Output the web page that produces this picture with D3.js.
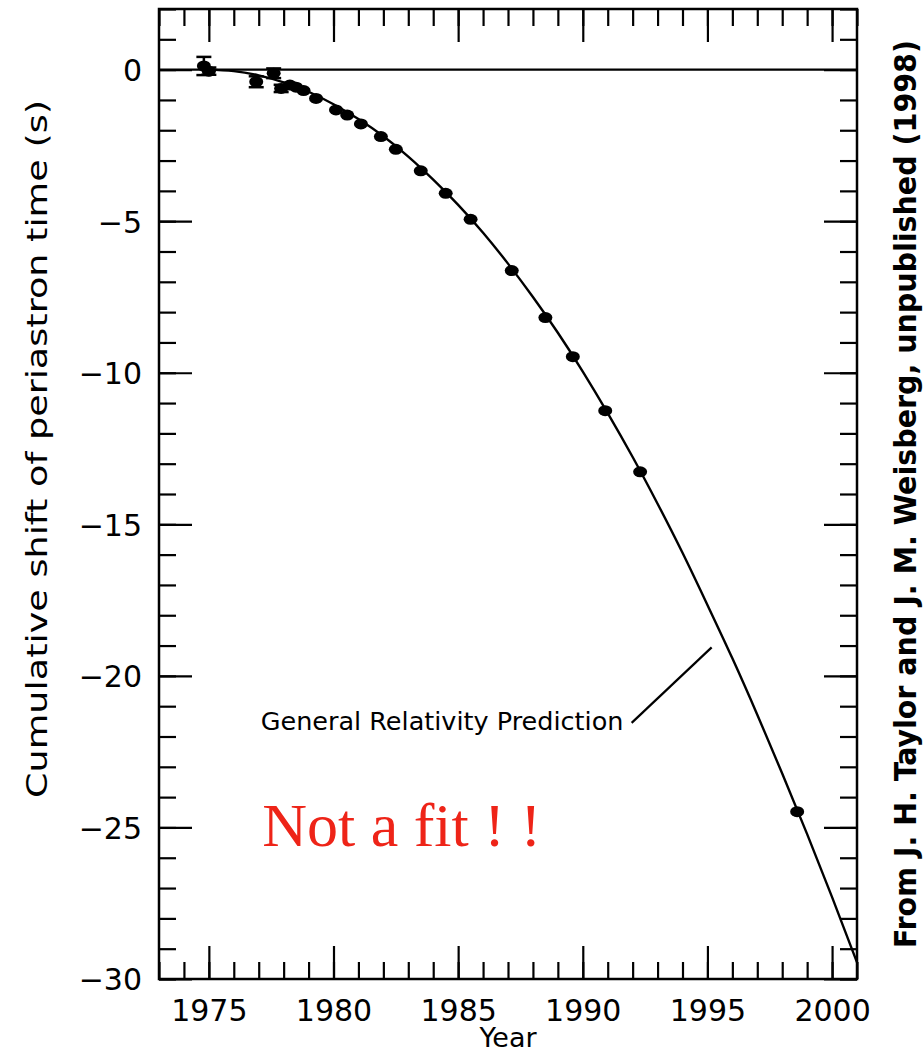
<!DOCTYPE html>
<html>
<head>
<meta charset="utf-8">
<script src="https://cdn.jsdelivr.net/npm/d3@7"></script>
<style>
  body { margin: 0; background: #fff; }
</style>
</head>
<body>
<div id="chart"></div>
<script>
// measured points (year, cumulative shift in s, error bar half-height)
const obsYears = [1974.8, 1975.0, 1976.9, 1977.6, 1977.9, 1978.25, 1978.5, 1978.8, 1979.3, 1980.1, 1980.55,
    1981.1, 1981.9, 1982.5, 1983.5, 1984.5, 1985.5, 1987.15, 1988.5, 1989.6, 1990.9, 1992.3, 1998.6];
const obsShift = [0.12, -0.05, -0.40, -0.12, -0.62, -0.51, -0.58, -0.69, -0.95, -1.33, -1.50,
    -1.79, -2.21, -2.63, -3.34, -4.08, -4.94, -6.63, -8.18, -9.47, -11.25, -13.27, -24.48];
const obsErr = [0.30, 0.12, 0.18, 0.16, 0.12, 0.08, 0.08, 0.08, 0.06, 0.06, 0.06,
    0.05, 0.05, 0.05, 0.05, 0.05, 0.05, 0.05, 0.05, 0.05, 0.05, 0.05, 0.05];

// general relativity curve
const grYears = [1974.9, 1976, 1977, 1978, 1979, 1980, 1981, 1982, 1983, 1984, 1985, 1986, 1987,
    1988, 1989, 1990, 1991, 1992, 1993, 1994, 1995, 1996, 1997, 1998, 1999, 2000, 2001];
const grShift = [0, -0.05, -0.19, -0.42, -0.73, -1.14, -1.63, -2.20, -2.87, -3.63, -4.46, -5.38, -6.40,
    -7.50, -8.68, -9.96, -11.33, -12.78, -14.32, -15.94, -17.66, -19.42, -21.28, -23.22, -25.22, -27.30, -29.45];

const xMajorTicks = [1975, 1980, 1985, 1990, 1995, 2000];
const yMajorTicks = [0, -5, -10, -15, -20, -25, -30];

const margin = { top: 9, right: 66, bottom: 79, left: 159 };
const totalWidth = 923;
const totalHeight = 1058;
const width = totalWidth - margin.left - margin.right;
const height = totalHeight - margin.top - margin.bottom;

const majorLen = 33;
const minorLen = 17;
const tickFont = "DejaVu Sans";

const svg = d3
    .select("#chart")
    .append("svg")
    .attr("width", totalWidth)
    .attr("height", totalHeight);

const g = svg
    .append("g")
    .attr("transform", "translate(" + margin.left + "," + margin.top + ")");

const x = d3.scaleLinear()
    .domain([1973, 2001])
    .range([0, width]);

const y = d3.scaleLinear()
    .domain([-30, 2])
    .range([height, 0]);

const xMinor = d3.range(1973, 2002);
const yMinor = d3.range(-30, 3);

function drawAxis(axis, transform) {
    const a = g.append("g")
        .attr("transform", transform)
        .call(axis);
    a.select(".domain").remove();
    a.selectAll(".tick line").attr("stroke", "#000").attr("stroke-width", 2.2);
    return a;
}

// minor ticks on all four sides
drawAxis(d3.axisBottom(x).tickValues(xMinor).tickSize(-minorLen).tickFormat(""), "translate(0," + height + ")");
drawAxis(d3.axisTop(x).tickValues(xMinor).tickSize(-minorLen).tickFormat(""), "translate(0,0)");
drawAxis(d3.axisLeft(y).tickValues(yMinor).tickSize(-minorLen).tickFormat(""), "translate(0,0)");
drawAxis(d3.axisRight(y).tickValues(yMinor).tickSize(-minorLen).tickFormat(""), "translate(" + width + ",0)");

// major ticks, labels on bottom and left
const xAxis = drawAxis(d3.axisBottom(x).tickValues(xMajorTicks).tickSize(-majorLen).tickPadding(21)
    .tickFormat(d3.format("d")), "translate(0," + height + ")");
drawAxis(d3.axisTop(x).tickValues(xMajorTicks).tickSize(-majorLen).tickFormat(""), "translate(0,0)");
const yAxis = drawAxis(d3.axisLeft(y).tickValues(yMajorTicks).tickSize(-majorLen).tickPadding(17)
    .tickFormat(d3.format("d")), "translate(0,0)");
drawAxis(d3.axisRight(y).tickValues(yMajorTicks).tickSize(-majorLen).tickFormat(""), "translate(" + width + ",0)");

xAxis.selectAll("text")
    .attr("font-family", tickFont)
    .attr("font-size", 30)
    .attr("fill", "#000");
yAxis.selectAll("text")
    .attr("font-family", tickFont)
    .attr("font-size", 30)
    .attr("fill", "#000")
    .attr("dy", "0.36em");

// frame
g.append("rect")
    .attr("x", 0)
    .attr("y", 0)
    .attr("width", width)
    .attr("height", height)
    .attr("fill", "none")
    .attr("stroke", "#000")
    .attr("stroke-width", 2.5);

// zero line
g.append("line")
    .attr("x1", 0)
    .attr("x2", width)
    .attr("y1", y(0))
    .attr("y2", y(0))
    .attr("stroke", "#000")
    .attr("stroke-width", 2.2);

// GR prediction curve
const grData = grYears.map((yr, i) => ({ year: yr, shift: grShift[i] }));
g.append("path")
    .datum(grData)
    .attr("fill", "none")
    .attr("stroke", "#000")
    .attr("stroke-width", 2.4)
    .attr("d", d3.line()
        .x(d => x(d.year))
        .y(d => y(d.shift))
        .curve(d3.curveNatural));

// observations with error bars
const obs = obsYears.map((yr, i) => ({ year: yr, shift: obsShift[i], err: obsErr[i] }));
const pts = g.append("g")
    .selectAll("g")
    .data(obs)
    .join("g")
    .attr("transform", d => "translate(" + x(d.year) + ",0)");

pts.append("line")
    .attr("y1", d => y(d.shift + d.err))
    .attr("y2", d => y(d.shift - d.err))
    .attr("stroke", "#000")
    .attr("stroke-width", 2.5);
pts.filter(d => d.err > 0.1)
    .selectAll("line.cap")
    .data(d => [d.shift + d.err, d.shift - d.err])
    .join("line")
    .attr("class", "cap")
    .attr("x1", -7.5)
    .attr("x2", 7.5)
    .attr("y1", v => y(v))
    .attr("y2", v => y(v))
    .attr("stroke", "#000")
    .attr("stroke-width", 2.5);
pts.append("ellipse")
    .attr("cy", d => y(d.shift))
    .attr("rx", 7)
    .attr("ry", 5.5)
    .attr("fill", "#000");

// annotation
g.append("text")
    .attr("x", x(1977.08))
    .attr("y", y(-21.79))
    .attr("font-family", tickFont)
    .attr("font-size", 25.5)
    .attr("fill", "#000")
    .text("General Relativity Prediction");

g.append("line")
    .attr("x1", x(1991.96))
    .attr("y1", y(-21.55))
    .attr("x2", x(1995.17))
    .attr("y2", y(-19.06))
    .attr("stroke", "#000")
    .attr("stroke-width", 2.2);

g.append("text")
    .attr("x", x(1977.14))
    .attr("y", y(-25.6))
    .attr("font-family", "Liberation Serif")
    .attr("font-size", 62)
    .attr("fill", "#ee2418")
    .text("Not a fit ! !");

// axis titles
svg.append("text")
    .attr("x", 508)
    .attr("y", 1047)
    .attr("text-anchor", "middle")
    .attr("font-family", tickFont)
    .attr("font-size", 27)
    .attr("fill", "#000")
    .text("Year");

svg.append("text")
    .attr("transform", "translate(47,449) rotate(-90)")
    .attr("text-anchor", "middle")
    .attr("font-family", tickFont)
    .attr("font-size", 28)
    .attr("textLength", 698)
    .attr("lengthAdjust", "spacingAndGlyphs")
    .attr("fill", "#000")
    .text("Cumulative shift of periastron time (s)");

svg.append("text")
    .attr("transform", "translate(916,494) rotate(-90)")
    .attr("text-anchor", "middle")
    .attr("font-family", "DejaVu Sans Condensed")
    .attr("font-weight", "bold")
    .attr("font-size", 31)
    .attr("textLength", 908)
    .attr("lengthAdjust", "spacingAndGlyphs")
    .attr("fill", "#000")
    .text("From J. H. Taylor and J. M. Weisberg,  unpublished (1998)");
</script>
</body>
</html>
